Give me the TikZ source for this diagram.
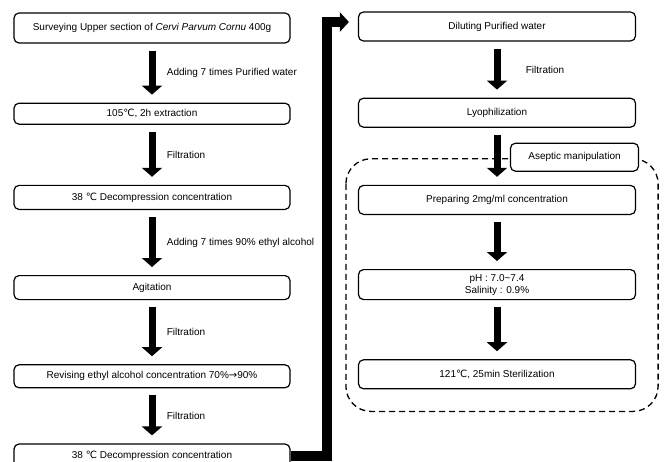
\documentclass[tikz,border=0pt]{standalone}
\usepackage{fontspec}
\setmainfont{Liberation Sans}
\newfontfamily\symfont{DejaVu Sans}
\newcommand{\degC}{{\symfont ℃}}
\newcommand{\toarrow}{{\symfont →}}
\usetikzlibrary{arrows.meta, positioning, calc}

\begin{document}
\begin{tikzpicture}[
    x=1pt, y=1pt,
    font=\fontsize{10}{12}\selectfont,
    stepbox/.style={
        rectangle, rounded corners=5pt,
        draw=black, line width=1.2pt,
        minimum width=276pt, minimum height=24pt,
        inner sep=2pt, align=center
    },
    sidebox/.style={
        stepbox, fill=white,
        minimum width=128pt, minimum height=28pt
    },
    blockarrow/.style={
        -{Triangle[width=20pt, length=9pt]}, line width=7pt,
        shorten <=7pt, shorten >=8pt
    },
    bigarrow/.style={
        -{Triangle[width=19pt, length=9pt]}, line width=10pt
    },
    steptext/.style={
        right, xshift=8pt
    },
    zone/.style={
        draw=black, line width=1.3pt, dash pattern=on 6pt off 4pt,
        rounded corners=25pt
    }
]
\useasboundingbox (0,0) rectangle (668,-462);

% Left column
\node[stepbox, minimum height=30pt] (survey) at (152,-28)
    {Surveying Upper section of \textit{Cervi Parvum Cornu} 400g};
\node[stepbox, minimum height=21pt, below=59pt of survey] (extract) {105\degC, 2h extraction};
\node[stepbox, below=60pt of extract] (decomp1) {38 \degC\ Decompression concentration};
\node[stepbox, below=65pt of decomp1] (agit) {Agitation};
\node[stepbox, minimum height=23pt, below=64pt of agit] (revise)
    {Revising ethyl alcohol concentration 70\%\toarrow90\%};
\node[stepbox, below=55pt of revise] (decomp2) {38 \degC\ Decompression concentration};

% Right column
\node[stepbox, minimum height=29pt, minimum width=277pt] (dilute) at (497,-26.5) {Diluting Purified water};
\node[stepbox, minimum height=29pt, minimum width=277pt, below=56pt of dilute] (lyo) {Lyophilization};
\node[stepbox, minimum height=29pt, minimum width=277pt, below=57pt of lyo] (prep) {Preparing 2mg/ml concentration};
\node[stepbox, minimum height=30pt, minimum width=277pt, below=54pt of prep] (ph)
    {pH : 7.0\textasciitilde7.4\\Salinity : 0.9\%};
\node[stepbox, minimum height=29pt, minimum width=277pt, below=59pt of ph] (steril) {121\degC, 25min Sterilization};

% Aseptic zone
\draw[zone] ($(prep.north west)+(-12,26)$) rectangle ($(steril.south east)+(22,-22)$);
\node[sidebox, above left=13pt and -3pt of prep.north east] (aseptic) {Aseptic manipulation};

% Arrows
\draw[blockarrow] (survey) -- node[steptext] {Adding 7 times Purified water} (extract);
\draw[blockarrow] (extract) -- node[steptext] {Filtration} (decomp1);
\draw[blockarrow] (decomp1) -- node[steptext] {Adding 7 times 90\% ethyl alcohol} (agit);
\draw[blockarrow] (agit) -- node[steptext] {Filtration} (revise);
\draw[blockarrow] (revise) -- node[steptext] {Filtration} (decomp2);
\draw[blockarrow] (dilute) -- node[steptext, xshift=14pt] {Filtration} (lyo);
\draw[blockarrow] (lyo) -- (prep);
\draw[blockarrow] (prep) -- (ph);
\draw[blockarrow] (ph) -- (steril);

% Link between columns
\coordinate (turn) at (327,-22);
\draw[bigarrow, shorten >=9pt] (decomp2.east) -| (turn) -- (dilute.west |- turn);

\end{tikzpicture}
\end{document}
